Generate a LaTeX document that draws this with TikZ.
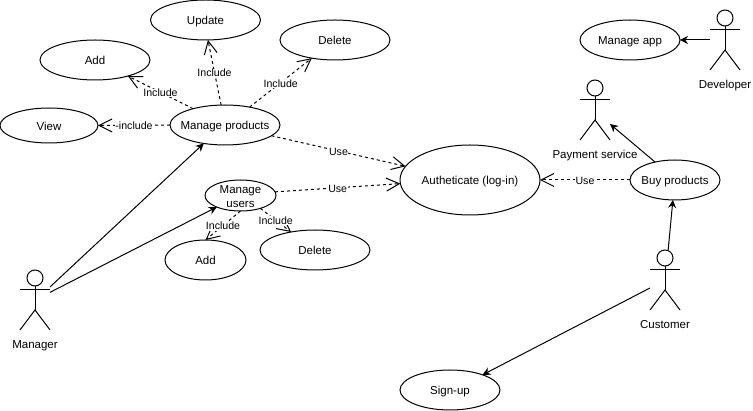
\documentclass[tikz,border=0pt]{standalone}
\usepackage{fontspec}
\setmainfont{Liberation Sans}
\usetikzlibrary{arrows.meta,shapes.geometric}
\tikzset{
	usecase/.style={draw, ellipse, inner sep=0pt, outer sep=0pt, font=\fontsize{11.5}{14}\selectfont},
	actorbox/.style={inner sep=0pt, outer sep=0pt, minimum width=30pt, minimum height=60pt},
	actortext/.style={inner sep=0pt, text height=9pt, text depth=3pt, font=\fontsize{11.5}{14}\selectfont},
	assoc/.style={-{Stealth[length=8pt,width=8pt]}},
	dep/.style={dashed, dash pattern=on 3pt off 3pt, -{Straight Barb[length=13pt,width=13pt]}},
	edgetext/.style={fill=white, inner sep=0.5pt, yshift=-0.7pt, font=\fontsize{10.6}{12}\selectfont},
}
\def\ucase(#1)(#2,#3)(#4,#5)#6{\node[usecase, minimum width=#4pt, minimum height=#5pt] (#1) at (#2,#3) {\smash{\raisebox{-5pt}{\makebox[0pt]{\begin{tabular}{@{}c@{}}#6\end{tabular}}}}};}
\def\stickman(#1)(#2,#3)#4{
	\node[actorbox] (#1) at (#2,#3) {};
	\draw (#2,#3-22) circle (8);
	\draw (#2,#3-14) -- (#2,#3+10);
	\draw (#2-15,#3-10) -- (#2+15,#3-10);
	\draw (#2-15,#3+30) -- (#2,#3+10) -- (#2+15,#3+30);
	\node[actortext] (#1text) at (#2,#3+46) {#4};
}

\begin{document}
\begin{tikzpicture}[x=1pt, y=-1pt, line width=1pt]
	%%%%% START %%%%%
	\useasboundingbox (0,0) rectangle (753,411);

	\ucase(update)(205.5,20)(110,40){Update};
	\ucase(delete)(335,40)(110,40){Delete};
	\ucase(add)(95,60)(110,40){Add};
	\ucase(view)(49,125.5)(98,35){View};
	\ucase(products)(225,125)(110,40){Manage products};
	\ucase(users)(240.5,195.5)(71,31){Manage\\users};
	\ucase(adduser)(205.5,260)(81,40){Add};
	\ucase(deleteuser)(315,250)(110,40){Delete};
	\ucase(auth)(470,180)(140,70){Autheticate (log-in)};
	\ucase(buy)(675,180)(90,40){Buy products};
	\ucase(app)(630,40)(100,40){Manage app};
	\ucase(signup)(450,390)(100,40){Sign-up};

	\stickman(manager)(35,300){Manager};
	\stickman(developer)(725,40){Developer};
	\stickman(payment)(595,110){Payment service};
	\stickman(customer)(665,280){Customer};

	\draw[assoc] (manager.41) -- (products.221);
	\draw[assoc] (manager.27) -- (users.206);
	\draw[assoc] (customer.208) -- (signup.25);
	\draw[assoc] (customer.84) -- (buy.264);
	\draw[assoc] (buy.138) -- (payment.-43);
	\draw[assoc] (developer.west) -- (app.east);

	\draw[dep] (products.west) -- node[edgetext] (incview) {-include} (view.east);
	\draw[dep] (products.153) -- node[edgetext] (incadd) {Include} (add.-26);
	\draw[dep] (products.101) -- node[edgetext] (incupdate) {Include} (update.-83);
	\draw[dep] (products.36) -- node[edgetext] (incdelete) {Include} (delete.218);
	\draw[dep] (users.270) -- node[edgetext] (incadduser) {Include} (adduser.90);
	\draw[dep] (users.-33) -- node[edgetext] (incdeleteuser) {Include} (deleteuser.143);

	\draw[dep] (products.-13) -- node[edgetext] (useproducts) {Use} (auth.168);
	\draw[dep] (users.6) -- node[edgetext] (useusers) {Use} (auth.183);
	\draw[dep] (buy.west) -- node[edgetext] (usebuy) {Use} (auth.east);
	%%%%% END %%%%%
\end{tikzpicture}
\end{document}
